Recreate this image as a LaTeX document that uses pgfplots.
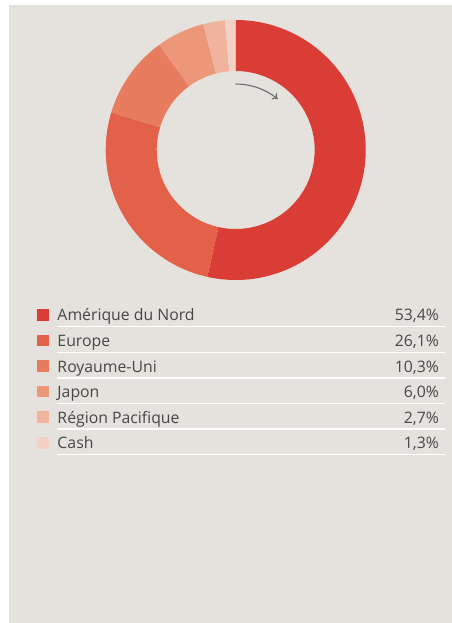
\documentclass[border=0pt]{standalone}
\usepackage{fontspec}
\setmainfont{Open Sans}
\usepackage{pgfplots}
\usepackage{pgfplotstable}
\pgfplotsset{compat=1.18}
\usetikzlibrary{arrows.meta}

\definecolor{bg}{HTML}{E5E2DD}
\definecolor{txt}{HTML}{474747}
\definecolor{arr}{HTML}{6E6E6E}
\definecolor{c1}{HTML}{DA3C36}
\definecolor{c2}{HTML}{E36049}
\definecolor{c3}{HTML}{E77C5E}
\definecolor{c4}{HTML}{EC977A}
\definecolor{c5}{HTML}{F0B39D}
\definecolor{c6}{HTML}{F2D2C4}

% regional allocation, percent
\pgfplotstableread[col sep=comma]{
name,value,color
Amérique du Nord,53.4,c1
Europe,26.1,c2
Royaume-Uni,10.3,c3
Japon,6.0,c4
Région Pacifique,2.7,c5
Cash,1.3,c6
}\regions

\begin{document}
\begin{tikzpicture}
\begin{axis}[
  x=1bp, y=1bp,
  xmin=0, xmax=452, ymin=0, ymax=623,
  hide axis, clip=false,
  anchor=origin, at={(0,0)},
]
% page and panel
\fill[white] (axis cs:0,0) rectangle (axis cs:452,623);
\fill[bg] (axis cs:9,0) rectangle (axis cs:452,618);

\def\cum{0}
\pgfplotsforeachungrouped \i in {0,...,5}{
  \pgfplotstablegetelem{\i}{value}\of\regions \let\val\pgfplotsretval
  \pgfplotstablegetelem{\i}{color}\of\regions \let\col\pgfplotsretval
  \pgfplotstablegetelem{\i}{name}\of\regions \let\nm\pgfplotsretval
  % total is 99.8, so one percent is 360/99.8 degrees
  \pgfmathsetmacro\aS{90-\cum*3.60721}
  \pgfmathsetmacro\aE{90-(\cum+\val)*3.60721}
  \pgfmathsetmacro\aI{\aE+180}
  \pgfmathsetmacro\cum{\cum+\val}
  \pgfmathsetmacro\yb{623-321-25.6*\i}
  \pgfmathsetmacro\ysq{\yb+0.3}
  \pgfmathsetmacro\ysqt{\yb+12}
  \pgfmathsetmacro\ylt{\yb-5}
  \pgfmathsetmacro\ylb{\yb-6.5}
  \edef\cmd{%
    \noexpand\fill[\col] (axis cs:235.7,473) ++(\aS:130bp)
      arc[start angle=\aS, end angle=\aE, radius=130bp]
      -- ++(\aI:51bp)
      arc[start angle=\aE, end angle=\aS, radius=79bp] -- cycle;
    \noexpand\fill[\col] (axis cs:37.3,\ysq) rectangle (axis cs:49,\ysqt);
    \noexpand\node[anchor=base west, inner sep=0pt, text=txt,
      font=\noexpand\fontsize{15.8bp}{18bp}\noexpand\selectfont]
      at (axis cs:57.3,\yb) {\nm};
    \noexpand\node[anchor=base east, inner sep=0pt, text=txt,
      font=\noexpand\fontsize{15.8bp}{18bp}\noexpand\selectfont]
      at (axis cs:439,\yb)
      {\noexpand\pgfmathprintnumber[fixed, fixed zerofill, precision=1,
        use comma, assume math mode=true]{\val}\noexpand\%};
    \noexpand\fill[white] (axis cs:56.7,\ylb) rectangle (axis cs:445,\ylt);
  }
  \cmd
}

% direction arrow inside the ring
\draw[arr, line width=1.1bp, -{To[length=5bp, width=8bp]}]
  (axis cs:235.7,473) ++(90:66bp) arc[start angle=90, end angle=50.5, radius=66bp];
\end{axis}
\end{tikzpicture}
\end{document}
